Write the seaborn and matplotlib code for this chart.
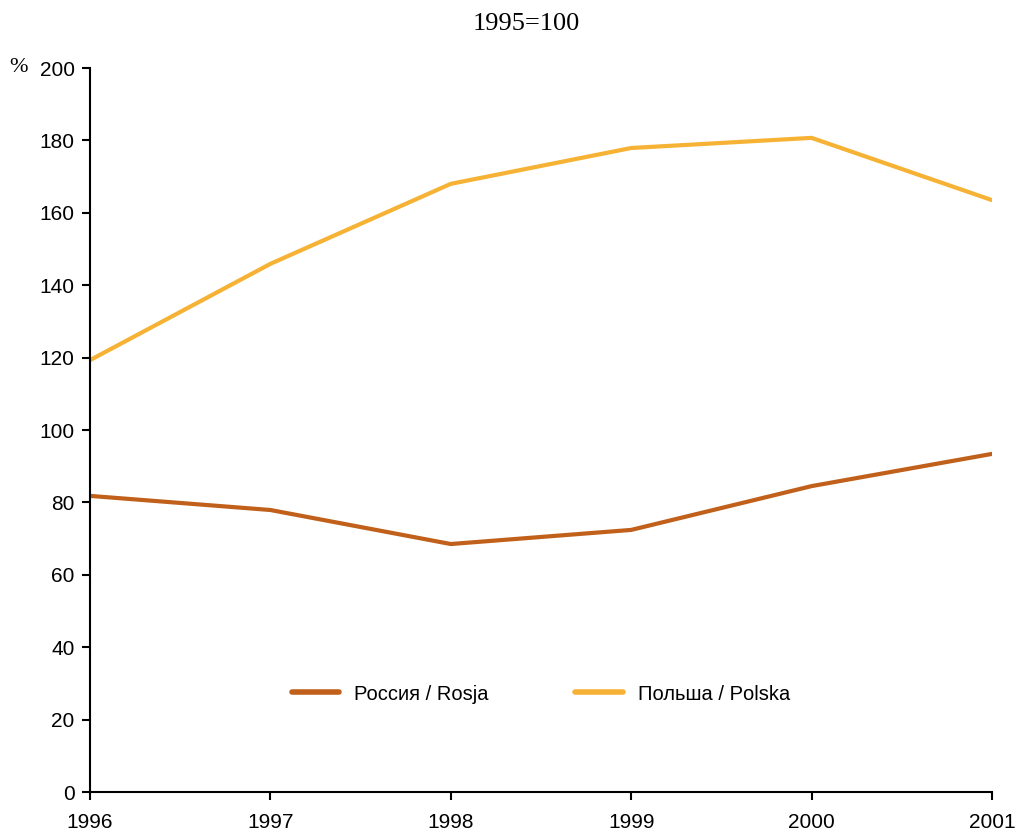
import matplotlib
matplotlib.use("Agg")
import matplotlib.pyplot as plt
import seaborn as sns
import pandas as pd

years = [1996, 1997, 1998, 1999, 2000, 2001]
russia = [81.8, 77.9, 68.5, 72.4, 84.5, 93.4]
poland = [119.3, 145.9, 168.0, 177.9, 180.7, 163.5]
series_names = ["Россия / Rosja", "Польша / Polska"]
colors = ["#C0601A", "#F6B234"]
y_ticks = list(range(0, 201, 20))

sns.set_theme(style="white")
plt.rcParams['font.family'] = ['Liberation Sans', 'DejaVu Sans']

df = pd.DataFrame({
    "year": years * 2,
    "value": russia + poland,
    "series": [series_names[0]] * len(years) + [series_names[1]] * len(years),
})

fig = plt.figure(figsize=(10.17, 8.34), dpi=100)
ax = fig.add_axes([90/1017, 1 - 792/834, (992-90)/1017, (792-68)/834])
sns.lineplot(data=df, x="year", y="value", hue="series", palette=colors,
             linewidth=3.0, ax=ax, legend=True)

ax.set_xlim(1996, 2001)
ax.set_ylim(0, 200)
ax.set_yticks(y_ticks)
ax.set_xticks(years)
ax.set_xticklabels([str(y) for y in years])
ax.set_xlabel("")
ax.set_ylabel("")
for s in ["top", "right"]:
    ax.spines[s].set_visible(False)
for s in ["left", "bottom"]:
    ax.spines[s].set_color("black")
    ax.spines[s].set_linewidth(1.5)
ax.tick_params(axis="both", which="major", length=6, width=1.5, color="black",
               labelsize=15, labelcolor="black", direction="out",
               bottom=True, left=True)
ax.tick_params(axis="x", pad=9)
ax.tick_params(axis="y", pad=5)

leg = ax.legend(loc="center", bbox_to_anchor=(0.5, 1 - (694-68)/(792-68)),
                ncol=2, frameon=False, fontsize=14.5, handlelength=2.35,
                columnspacing=4.3, handletextpad=0.75)
for text in leg.get_texts():
    text.set_color("black")
for line in leg.get_lines():
    line.set_linewidth(4)
    line.set_solid_capstyle("round")

fig.text(526/1017, 1 - 24/834, "1995=100", ha="center", va="center",
         fontsize=19, color="black", family=["Liberation Serif", "DejaVu Serif"])
fig.text(18/1017, 1 - 68/834, "%", ha="center", va="center",
         fontsize=16, color="black", family=["Liberation Serif", "DejaVu Serif"])

fig.savefig("out.png", dpi=100)
